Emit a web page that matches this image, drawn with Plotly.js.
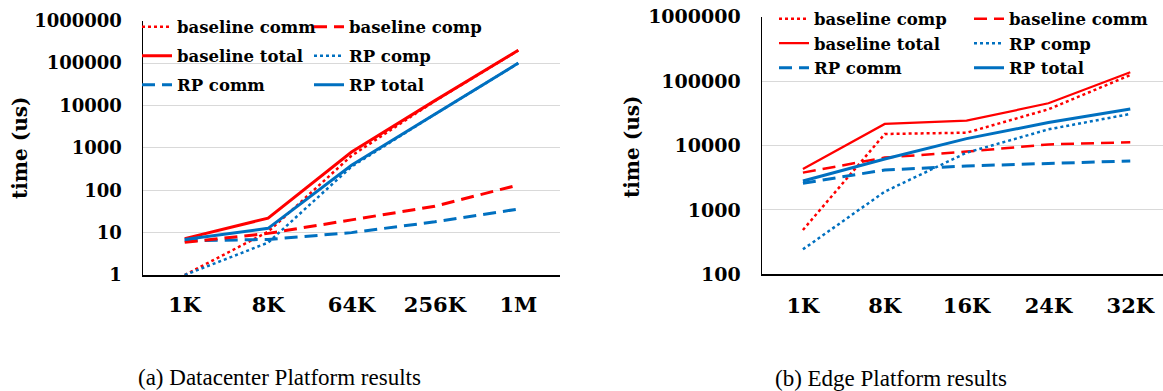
<!DOCTYPE html>
<html>
<head>
<meta charset="utf-8">
<script src="https://cdn.plot.ly/plotly-3.0.1.min.js"></script>
<style>
  html, body { margin: 0; padding: 0; background: #fff; }
  #chart { width: 1163px; height: 391px; }
</style>
</head>
<body>
<div id="chart"></div>
<script>
// ---- Datacenter platform (a) ----
const dcCategories = ['1K', '8K', '64K', '256K', '1M'];
const dcBaselineComm = [1, 10.5, 650, 12800, 199000];
const dcBaselineComp = [5.9, 9.6, 20, 42, 133];
const dcBaselineTotal = [7.2, 22, 800, 13000, 200000];
const dcRPComp = [1, 5.8, 360, 6200, 99000];
const dcRPComm = [6.4, 6.9, 10, 18, 36];
const dcRPTotal = [6.9, 12.6, 390, 6300, 100000];

// ---- Edge platform (b) ----
const edgeCategories = ['1K', '8K', '16K', '24K', '32K'];
const edgeBaselineComp = [488, 15100, 15800, 36500, 124000];
const edgeBaselineComm = [3790, 6490, 8040, 10400, 11200];
const edgeBaselineTotal = [4320, 21600, 24300, 45200, 137000];
const edgeRPComp = [244, 1920, 7740, 17800, 30900];
const edgeRPComm = [2590, 4170, 4810, 5300, 5760];
const edgeRPTotal = [2810, 6180, 12800, 22700, 36900];

const yTicksDC = [1, 10, 100, 1000, 10000, 100000, 1000000];
const yTicksEdge = [100, 1000, 10000, 100000, 1000000];
const yTitle = 'time (us)';
const captionA = '(a) Datacenter Platform results';
const captionB = '(b) Edge Platform results';

const RED = '#FF0000';
const BLUE = '#0070C0';
const W = 1163, H = 391;
const px = v => v / W;
const py = v => 1 - v / H;
const serifBold = (size) => ({ family: 'DejaVu Serif', size: size, weight: 'bold', color: '#000' });

function tr(x, y, name, color, width, dash, xa, ya, legend, group) {
  return {
    type: 'scatter', mode: 'lines', x: x, y: y, name: name,
    xaxis: xa, yaxis: ya, legend: legend, legendgroup: group,
    line: { color: color, width: width, dash: dash },
    hoverinfo: 'skip'
  };
}
const DASH = '13px,7px';

const data = [
  // left chart, legend column 1
  tr(dcCategories, dcBaselineComm, 'baseline comm', RED, 2.5, 'dot', 'x', 'y', 'legend', 'a1'),
  tr(dcCategories, dcBaselineTotal, 'baseline total', RED, 3, 'solid', 'x', 'y', 'legend', 'a2'),
  tr(dcCategories, dcRPComm, 'RP comm', BLUE, 3, DASH, 'x', 'y', 'legend', 'a3'),
  // left chart, legend column 2
  tr(dcCategories, dcBaselineComp, 'baseline comp', RED, 3, DASH, 'x', 'y', 'legend2', 'b1'),
  tr(dcCategories, dcRPComp, 'RP comp', BLUE, 2.5, 'dot', 'x', 'y', 'legend2', 'b2'),
  tr(dcCategories, dcRPTotal, 'RP total', BLUE, 3, 'solid', 'x', 'y', 'legend2', 'b3'),
  // right chart, legend column 1
  tr(edgeCategories, edgeBaselineComp, 'baseline comp', RED, 2.5, 'dot', 'x2', 'y2', 'legend3', 'c1'),
  tr(edgeCategories, edgeBaselineTotal, 'baseline total', RED, 2.2, 'solid', 'x2', 'y2', 'legend3', 'c2'),
  tr(edgeCategories, edgeRPComm, 'RP comm', BLUE, 3, DASH, 'x2', 'y2', 'legend3', 'c3'),
  // right chart, legend column 2
  tr(edgeCategories, edgeBaselineComm, 'baseline comm', RED, 2.5, DASH, 'x2', 'y2', 'legend4', 'd1'),
  tr(edgeCategories, edgeRPComp, 'RP comp', BLUE, 2.5, 'dot', 'x2', 'y2', 'legend4', 'd2'),
  tr(edgeCategories, edgeRPTotal, 'RP total', BLUE, 3, 'solid', 'x2', 'y2', 'legend4', 'd3')
];

const xBase = {
  type: 'category', showgrid: false, zeroline: false,
  showline: true, linecolor: '#000', linewidth: 1.5,
  ticks: '', tickfont: serifBold(21), fixedrange: true
};
const yBase = {
  type: 'log', showgrid: true, gridcolor: '#D9D9D9', gridwidth: 1,
  zeroline: false, showline: true, linecolor: '#000', linewidth: 1.5,
  ticks: '', tickmode: 'array', ticklabelstandoff: 16, fixedrange: true
};

function legendBox(xLeft, yTop, gap) {
  return {
    x: px(xLeft), y: py(yTop), xanchor: 'left', yanchor: 'top',
    orientation: 'v', bgcolor: 'rgba(0,0,0,0)', borderwidth: 0,
    font: serifBold(16.5), traceorder: 'grouped', tracegroupgap: gap,
    itemwidth: 30
  };
}

const layout = {
  width: W, height: H,
  margin: { l: 0, r: 0, t: 0, b: 0 },
  paper_bgcolor: '#fff', plot_bgcolor: '#fff',
  showlegend: true,
  xaxis: Object.assign({}, xBase, {
    domain: [px(143), px(560)], range: [-0.5, 4.5], anchor: 'y', ticklabelstandoff: 10
  }),
  yaxis: Object.assign({}, yBase, {
    domain: [py(275), py(20.7)], range: [0, 6], anchor: 'x',
    tickvals: yTicksDC, ticktext: yTicksDC.map(String), tickfont: serifBold(18)
  }),
  xaxis2: Object.assign({}, xBase, {
    domain: [px(762), 1], range: [-0.5, 4.4], anchor: 'y2', ticklabelstandoff: 12
  }),
  yaxis2: Object.assign({}, yBase, {
    domain: [py(274.3), py(16.7)], range: [2, 6], anchor: 'x2',
    tickvals: yTicksEdge, ticktext: yTicksEdge.map(String), tickfont: serifBold(19)
  }),
  legend: legendBox(137, 9.5, 4.5),
  legend2: legendBox(309, 9.5, 4.5),
  legend3: legendBox(774, 1.5, 0),
  legend4: legendBox(969, 1.5, 0),
  annotations: [
    { text: yTitle, xref: 'paper', yref: 'paper', x: px(20), y: py(148),
      xanchor: 'center', yanchor: 'middle', textangle: -90, showarrow: false, font: serifBold(20) },
    { text: yTitle, xref: 'paper', yref: 'paper', x: px(632), y: py(147),
      xanchor: 'center', yanchor: 'middle', textangle: -90, showarrow: false, font: serifBold(20) },
    { text: captionA, xref: 'paper', yref: 'paper', x: px(279.5), y: py(377),
      xanchor: 'center', yanchor: 'middle', showarrow: false,
      font: { family: 'Liberation Serif', size: 23, color: '#000' } },
    { text: captionB, xref: 'paper', yref: 'paper', x: px(891), y: py(378.5),
      xanchor: 'center', yanchor: 'middle', showarrow: false,
      font: { family: 'Liberation Serif', size: 23, color: '#000' } }
  ]
};

Plotly.newPlot('chart', data, layout, { staticPlot: true, displayModeBar: false });
</script>
</body>
</html>
